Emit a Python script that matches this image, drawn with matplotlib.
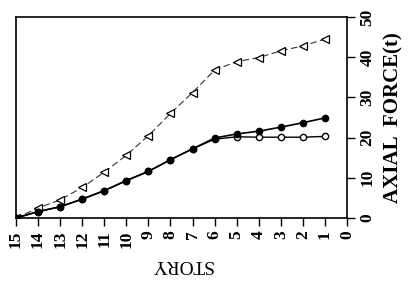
import matplotlib
matplotlib.use("Agg")
import matplotlib.pyplot as plt

stories = [15, 14, 13, 12, 11, 10, 9, 8, 7, 6, 5, 4, 3, 2, 1]
force_triangle = [0.0, 2.5, 4.5, 7.6, 11.4, 15.6, 20.5, 26.0, 31.2, 36.8, 38.9, 39.9, 41.6, 42.8, 44.5]
force_filled = [0.0, 1.6, 2.8, 4.7, 6.8, 9.3, 11.6, 14.5, 17.2, 19.9, 20.9, 21.6, 22.6, 23.7, 24.9]
force_open = [0.0, 1.6, 2.8, 4.7, 6.8, 9.3, 11.6, 14.5, 17.2, 19.6, 20.2, 20.1, 20.1, 20.1, 20.3]
xticks = list(range(0, 16))
yticks = [0, 10, 20, 30, 40, 50]

plt.rcParams['font.family'] = ['Liberation Serif', 'DejaVu Serif']

fig = plt.figure(figsize=(4.14, 2.85), dpi=100)
ax = fig.add_axes([16/414, 1-218/285, (347-16)/414, (218-17)/285])

ax.plot(stories, force_triangle, color='#333333', lw=0.8, ls=(0, (6, 3)),
        marker='<', ms=5.5, mfc='white', mec='black', mew=0.9)
ax.plot(stories, force_open, color='black', lw=1.0,
        marker='o', ms=4.5, mfc='white', mec='black', mew=1.0)
ax.plot(stories, force_filled, color='black', lw=1.2,
        marker='o', ms=4.5, mfc='black', mec='black', mew=1.0)

ax.set_xlim(15, 0)
ax.set_ylim(0, 50)
ax.set_xticks(xticks)
ax.set_xticklabels([str(t) for t in xticks], rotation=90, fontsize=12.5, fontweight='bold')
ax.yaxis.tick_right()
ax.yaxis.set_label_position('right')
ax.set_yticks(yticks)
ax.set_yticklabels([str(t) for t in yticks], rotation=90, fontsize=12.5, va='center', fontweight='bold')
ax.tick_params(axis='both', direction='out', length=6, width=1.0, pad=3)
for s in ax.spines.values():
    s.set_linewidth(1.2)

ax.set_xlabel('STORY', rotation=180, fontsize=14, labelpad=6)
ax.set_ylabel('AXIAL  FORCE(t)', rotation=90, fontsize=15, labelpad=6, fontweight='bold')

fig.savefig('out.png', dpi=100)
